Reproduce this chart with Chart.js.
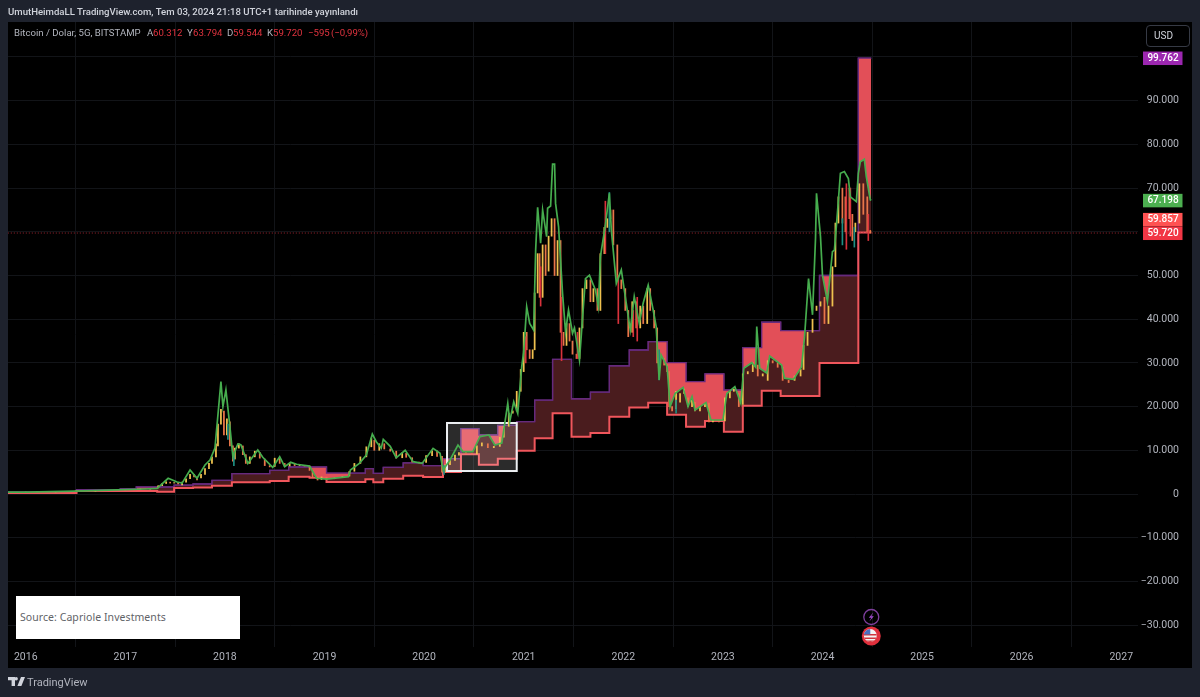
<!DOCTYPE html>
<html>
<head>
<meta charset="utf-8">
<title>Bitcoin / Dolar</title>
<script src="https://cdn.jsdelivr.net/npm/chart.js@4/dist/chart.umd.min.js"></script>
<style>
  html, body { margin: 0; padding: 0; background: #1e222d; }
  body { width: 1200px; height: 697px; position: relative; overflow: hidden; font-family: Roboto, sans-serif; }
  canvas { display: block; position: absolute; left: 0; top: 0; }
  .txt { position: absolute; white-space: pre; }
  #head { left: 8px; top: 4px; font-size: 9.6px; line-height: 16px; color: #d1d4dc; font-weight: 500; }
  #status { left: 14px; top: 25px; font-size: 9.6px; line-height: 16px; color: #b2b5be; }
  #status span { position: absolute; top: 0; }
  #status .v { color: #e0333f; }
  #usd { left: 1146px; top: 25px; width: 42px; height: 20px; border: 1px solid #363a45; border-radius: 4px; color: #d1d4dc; font-size: 10px; line-height: 20px; text-indent: 7px; }
  #source { left: 16px; top: 596px; width: 224px; height: 43px; background: #fff; color: #5f6368; font-family: "Noto Sans", sans-serif; font-size: 10.5px; line-height: 42px; text-indent: 4px; letter-spacing: .06px; }
  #logo { left: 8px; top: 677px; }
  #brand { left: 27px; top: 674px; font-size: 11px; line-height: 17px; color: #b2b5be; }
</style>
</head>
<body>
<canvas id="chart" width="1200" height="697"></canvas>
<div class="txt" id="head">UmutHeimdaLL TradingView.com, Tem 03, 2024 21:18 UTC+1 tarihinde yayınlandı</div>
<div class="txt" id="status"><span style="left:0">Bitcoin / Dolar, 5G, BITSTAMP</span><span style="left:133px">A</span><span class="v" style="left:139px">60.312</span><span style="left:173px">Y</span><span class="v" style="left:179px">63.794</span><span style="left:213px">D</span><span class="v" style="left:219px">59.544</span><span style="left:253px">K</span><span class="v" style="left:259px">59.720</span><span class="v" style="left:294px">−595</span><span class="v" style="left:317px">(−0,99%)</span></div>
<div class="txt" id="usd">USD</div>
<div class="txt" id="source">Source: Capriole Investments</div>
<svg class="txt" id="logo" width="17" height="10" viewBox="0 0 17 10"><path fill="#d1d4dc" d="M0 0h7v9H3.6V3.2H0zM8.2 0a1.7 1.7 0 1 1 0 3.4 1.7 1.7 0 0 1 0-3.4zM13 0h4l-3.6 9H9.4z"/></svg>
<div class="txt" id="brand">TradingView</div>
<script>
// --- data ---
const xTickYears = [2016, 2017, 2018, 2019, 2020, 2021, 2022, 2023, 2024, 2025, 2026, 2027];
const yTickValues = [-30000, -20000, -10000, 0, 10000, 20000, 30000, 40000, 50000, 60000, 70000, 80000, 90000, 100000];
const yTicksHidden = [100000, 60000];

const stepYears = [2015.82, 2016.51, 2016.95, 2017.11, 2017.32, 2017.49, 2017.68, 2017.87, 2018.07, 2018.45,
  2018.64, 2018.85, 2019.02, 2019.41, 2019.49, 2019.59, 2019.79, 2019.99, 2020.19, 2020.37,
  2020.55, 2020.74, 2020.93, 2021.11, 2021.29, 2021.48, 2021.67, 2021.86, 2022.06, 2022.25,
  2022.44, 2022.63, 2022.82, 2023.01, 2023.2, 2023.39, 2023.58, 2023.97, 2024.36, 2024.49];
const upperValues = [400, 1000, 1200, 1600, 1600, 2050, 2290, 3100, 4650, 5400,
  6180, 6180, 4800, 5800, 4700, 6100, 7100, 6480, 8080, 14950,
  13500, 15700, 16550, 21500, 30800, 21800, 23300, 29350, 32950, 34850,
  30050, 25700, 27500, 23800, 33500, 39300, 37400, 50000, 99762, 99762];
const lowerValues = [250, 680, 680, 700, 520, 1400, 1500, 1900, 2700, 3000,
  3950, 3700, 2750, 3400, 2700, 3500, 4200, 3900, 5030, 9080,
  6700, 8080, 9900, 12750, 18450, 13100, 13950, 17700, 19800, 20900,
  18150, 15400, 16700, 14250, 20200, 23600, 22450, 30000, 59857, 59857];

const fairYears = [2015.82, 2016, 2016.5, 2017, 2017.2, 2017.32, 2017.43, 2017.52, 2017.57, 2017.65, 2017.72, 2017.8,
  2017.85, 2017.9, 2017.96, 2017.98, 2018.01, 2018.05, 2018.08, 2018.13, 2018.16, 2018.23, 2018.33, 2018.38,
  2018.48, 2018.55, 2018.6, 2018.66, 2018.72, 2018.85, 2018.92, 2019.02, 2019.24, 2019.26, 2019.35, 2019.42,
  2019.48, 2019.52, 2019.57, 2019.59, 2019.66, 2019.72, 2019.81, 2019.89, 2019.98, 2020.09, 2020.16, 2020.19,
  2020.26, 2020.34, 2020.39, 2020.49, 2020.56, 2020.65, 2020.71, 2020.78, 2020.84, 2020.86, 2020.9, 2020.94,
  2020.98, 2021.0, 2021.03, 2021.06, 2021.1, 2021.12, 2021.14, 2021.17, 2021.19, 2021.23, 2021.24, 2021.27,
  2021.29, 2021.31, 2021.32, 2021.35, 2021.39, 2021.42, 2021.45, 2021.49, 2021.51, 2021.56, 2021.62, 2021.66,
  2021.72, 2021.75, 2021.77, 2021.82, 2021.86, 2021.88, 2021.93, 2021.98, 2022.07, 2022.11, 2022.16, 2022.2,
  2022.25, 2022.3, 2022.33, 2022.36, 2022.38, 2022.44, 2022.47, 2022.52, 2022.6, 2022.65, 2022.69, 2022.72,
  2022.83, 2022.88, 2023.0, 2023.04, 2023.12, 2023.18, 2023.21, 2023.29, 2023.33, 2023.34, 2023.37, 2023.44,
  2023.47, 2023.59, 2023.62, 2023.71, 2023.79, 2023.82, 2023.86, 2023.9, 2023.93, 2023.94, 2023.98, 2024.0,
  2024.05, 2024.1, 2024.12, 2024.15, 2024.18, 2024.22, 2024.26, 2024.28, 2024.34, 2024.36, 2024.38, 2024.42,
  2024.44, 2024.48, 2024.49];
const fairValues = [420, 430, 650, 1000, 1150, 1300, 3600, 2750, 2500, 5500, 3600, 6640,
  7780, 10500, 25700, 20000, 23800, 15400, 8540, 11440, 11300, 7000, 10070, 8400,
  6100, 8540, 6250, 7250, 6800, 6400, 3600, 3400, 3960, 5500, 7000, 8925,
  13730, 11970, 10500, 12500, 10900, 8300, 10000, 7400, 7000, 10450, 9300, 5500,
  7780, 11200, 9700, 9700, 13100, 13500, 11200, 11640, 20750, 16550, 21100, 18450,
  29100, 32560, 42860, 39050, 37500, 55800, 65600, 57400, 65000, 58900, 65400, 65900,
  75500, 75500, 66500, 61200, 45900, 37100, 42100, 36800, 38000, 30660, 49300, 50100,
  46700, 42900, 54300, 61500, 68800, 60400, 48200, 51260, 37500, 45150, 39100, 43700,
  47800, 42100, 38300, 26100, 31800, 29100, 20000, 23000, 24400, 20000, 22300, 19200,
  20900, 16930, 16930, 23000, 24550, 20750, 28760, 30050, 29000, 38300, 28760, 27700,
  31580, 29500, 26500, 26250, 29100, 36000, 49300, 41000, 58500, 68800, 58900, 50100,
  44000, 55450, 55800, 64300, 73400, 73800, 72200, 68000, 66900, 73400, 76000, 76600,
  72600, 67300, 67198];

const candleYears = [2016, 2016.3, 2016.5, 2016.7, 2017, 2017.15, 2017.25, 2017.33, 2017.37, 2017.41, 2017.45, 2017.49,
  2017.53, 2017.57, 2017.61, 2017.65, 2017.69, 2017.72, 2017.76, 2017.8, 2017.84, 2017.87, 2017.91, 2017.93,
  2017.96, 2017.99, 2018.02, 2018.05, 2018.08, 2018.1, 2018.14, 2018.18, 2018.21, 2018.25, 2018.3, 2018.35,
  2018.4, 2018.45, 2018.5, 2018.55, 2018.6, 2018.65, 2018.7, 2018.75, 2018.8, 2018.85, 2018.88, 2018.93,
  2018.97, 2019.02, 2019.1, 2019.18, 2019.25, 2019.3, 2019.36, 2019.42, 2019.47, 2019.5, 2019.55, 2019.6,
  2019.66, 2019.72, 2019.78, 2019.82, 2019.88, 2019.95, 2020.02, 2020.08, 2020.13, 2020.18, 2020.21, 2020.26,
  2020.31, 2020.35, 2020.42, 2020.48, 2020.53, 2020.58, 2020.64, 2020.7, 2020.76, 2020.8, 2020.85, 2020.89,
  2020.93, 2020.97, 2021.0, 2021.03, 2021.06, 2021.09, 2021.11, 2021.14, 2021.16, 2021.19, 2021.22, 2021.25,
  2021.28, 2021.31, 2021.34, 2021.37, 2021.4, 2021.43, 2021.46, 2021.49, 2021.53, 2021.56, 2021.59, 2021.63,
  2021.67, 2021.7, 2021.74, 2021.77, 2021.81, 2021.84, 2021.87, 2021.9, 2021.94, 2021.98, 2022.02, 2022.05,
  2022.09, 2022.13, 2022.17, 2022.2, 2022.24, 2022.27, 2022.31, 2022.34, 2022.37, 2022.41, 2022.44, 2022.46,
  2022.49, 2022.53, 2022.57, 2022.61, 2022.65, 2022.69, 2022.72, 2022.77, 2022.82, 2022.86, 2022.9, 2022.96,
  2023.02, 2023.07, 2023.11, 2023.16, 2023.2, 2023.25, 2023.3, 2023.35, 2023.4, 2023.45, 2023.5, 2023.55,
  2023.6, 2023.66, 2023.72, 2023.78, 2023.81, 2023.85, 2023.9, 2023.94, 2023.98, 2024.02, 2024.06, 2024.1,
  2024.13, 2024.16, 2024.2, 2024.23, 2024.27, 2024.3, 2024.33, 2024.37, 2024.41, 2024.45, 2024.48];
const candleOpen = [430, 450, 620, 600, 950, 1050, 1100, 1400, 1900, 2400, 2700, 2500,
  2600, 2100, 2700, 3500, 4500, 3900, 3700, 4500, 5800, 7000, 8500, 11000,
  16000, 19000, 13500, 16500, 11000, 8000, 10500, 11000, 9000, 7000, 8500, 9500,
  8000, 6500, 6300, 8200, 7000, 6400, 6900, 6500, 6500, 6400, 5400, 3900,
  3300, 3800, 3500, 3800, 4100, 5200, 7000, 8500, 10800, 12300, 10000, 11500,
  10300, 9800, 8300, 9300, 8300, 7300, 7200, 8800, 9900, 8600, 5000, 6700,
  7700, 8900, 9500, 9300, 9200, 11000, 11500, 10600, 10900, 13000, 15500, 18500,
  19000, 23500, 28000, 37000, 33000, 31000, 33000, 46000, 55000, 45000, 57000, 51000,
  59000, 63000, 50000, 58000, 37000, 34000, 39000, 35000, 32000, 31000, 38000, 47000,
  49000, 44000, 47000, 42000, 55000, 61000, 63000, 65000, 57000, 49000, 47000, 42000,
  37000, 44000, 38000, 43000, 39000, 47000, 42000, 38000, 30000, 31000, 29500, 28000,
  20000, 19500, 21000, 23000, 22000, 20000, 21000, 19000, 20000, 20800, 16500, 16800,
  16700, 22000, 23500, 23000, 20500, 27500, 28000, 29500, 27000, 26000, 30500, 30000,
  29000, 26000, 26000, 27000, 28500, 34000, 37000, 42000, 43000, 45000, 39000, 43000,
  52000, 62000, 70000, 68000, 70000, 64000, 60000, 62000, 71000, 68000, 60312];
const candleClose = [440, 460, 680, 610, 1000, 1150, 1250, 1900, 2400, 2800, 2500, 2600,
  2300, 2700, 3500, 4500, 3900, 3200, 4500, 5800, 7000, 8500, 11500, 16000,
  19400, 13500, 17200, 11000, 7500, 10500, 11500, 9000, 7000, 8500, 9800, 8200,
  6500, 6200, 8200, 7000, 6300, 7000, 6500, 6600, 6400, 5400, 3800, 3200,
  3900, 3600, 3700, 4000, 5200, 7000, 8500, 10800, 12800, 10000, 11500, 10300,
  9800, 8200, 9400, 8400, 7300, 7100, 8800, 9900, 8600, 5000, 6700, 7700,
  8900, 9500, 9300, 9200, 11000, 11700, 10600, 10900, 13000, 15500, 18500, 19000,
  23500, 28500, 37000, 33000, 31000, 33000, 46000, 55000, 45000, 57000, 50000, 59000,
  63000, 50000, 58000, 37000, 34000, 39000, 35000, 32000, 31000, 38000, 47000, 49000,
  44000, 47000, 42000, 55000, 61000, 63000, 65000, 57000, 49000, 47000, 42000, 36000,
  44000, 38000, 43000, 39000, 47000, 42000, 38000, 30000, 31000, 29500, 28000, 20000,
  19000, 23500, 23000, 24000, 20000, 21500, 19000, 20000, 20500, 16500, 16800, 16500,
  22000, 23500, 24000, 20000, 27500, 28000, 30000, 27000, 27500, 30500, 30000, 29000,
  26000, 25500, 27000, 28500, 34000, 37000, 40000, 43000, 44000, 39000, 43000, 52000,
  62000, 68000, 62000, 60000, 63000, 58000, 62000, 71000, 64000, 60000, 59720];

const tealYears = [2018.03, 2018.09, 2021.86, 2022.36, 2022.53, 2024.2, 2024.32, 2020.2];
const tealLow = [12500, 6500, 60000, 26100, 18500, 57000, 56500, 4500];
const tealHigh = [16000, 9500, 69000, 33000, 21500, 63000, 61000, 6500];
const redWickYears = [2021.17, 2021.38, 2021.82, 2021.95, 2022.1, 2022.14, 2024.24, 2024.46, 2024.28, 2021.02, 2021.54];
const redWickLow = [43000, 30500, 55000, 39000, 36000, 35000, 56000, 58000, 59000, 30000, 31000];
const redWickHigh = [52000, 45000, 67000, 50000, 42000, 45000, 71000, 64000, 70000, 36000, 37000];

const lastClose = 59720;
const lastUpper = 99762;
const lastFair = 67198;
const lastLower = 59857;
const boxYears = [2020.23, 2020.93];
const boxValues = [5260, 16250];
const eventYear = 2024.49;

const toPoints = (xs, ys) => xs.map((x, i) => ({ x: x, y: ys[i] }));
const toRanges = (xs, a, b) => xs.map((x, i) => ({ x: x, y: [a[i], b[i]] }));

const MAROON = '#4a1c1e';
const BRIGHT = '#e24f58';
const PURPLE = '#662a7c';
const AXIS_FONT = { family: 'Roboto', size: 10.5 };

// price tags, marked box and the two event bubbles
const overlay = {
  id: 'overlay',
  beforeDraw(chart) {
    const c = chart.ctx;
    c.save();
    c.fillStyle = '#000';
    c.fillRect(8, 22, 1184, 646);
    c.restore();
  },
  afterDatasetDraw(chart, args) {
    if (args.index !== 2) return;
    const c = chart.ctx, sx = chart.scales.x, sy = chart.scales.y;
    const x0 = sx.getPixelForValue(boxYears[0]), x1 = sx.getPixelForValue(boxYears[1]);
    const y0 = sy.getPixelForValue(boxValues[1]), y1 = sy.getPixelForValue(boxValues[0]);
    c.save();
    c.fillStyle = 'rgba(255,255,255,0.17)';
    c.fillRect(x0, y0, x1 - x0, y1 - y0);
    c.strokeStyle = '#eceff2';
    c.lineWidth = 2;
    c.strokeRect(x0, y0, x1 - x0, y1 - y0);
    c.restore();
  },
  afterDraw(chart) {
    const c = chart.ctx, sx = chart.scales.x, sy = chart.scales.y;
    const tag = (v, txt, bg, shift) => {
      const y = sy.getPixelForValue(v) + shift;
      c.fillStyle = bg;
      c.fillRect(1143, y - 6.5, 39.5, 13.5);
      c.fillStyle = '#fff';
      c.font = '500 10px Roboto';
      c.textAlign = 'center';
      c.textBaseline = 'middle';
      c.fillText(txt, 1163, y + 0.5);
    };
    c.save();
    tag(lastUpper, '99.762', '#9c27b0', 0);
    tag(lastFair, '67.198', '#4caf50', 0);
    tag(lastLower, '59.857', '#ff5252', -13);
    tag(lastClose, '59.720', '#f23645', 0);

    const ex = sx.getPixelForValue(eventYear);
    // lightning bubble
    c.beginPath();
    c.arc(ex, 617, 7.5, 0, Math.PI * 2);
    c.strokeStyle = '#7e3f9d';
    c.lineWidth = 1.3;
    c.stroke();
    c.beginPath();
    c.moveTo(ex + 2, 612.5); c.lineTo(ex - 2.5, 617.8); c.lineTo(ex, 617.8);
    c.lineTo(ex - 2, 621.5); c.lineTo(ex + 2.5, 616.2); c.lineTo(ex, 616.2);
    c.closePath();
    c.fillStyle = '#a24bd0';
    c.fill();
    // flag bubble
    c.beginPath();
    c.arc(ex, 636, 9.5, 0, Math.PI * 2);
    c.fillStyle = '#e0303c';
    c.fill();
    c.save();
    c.beginPath();
    c.arc(ex - 1, 635.5, 6.5, 0, Math.PI * 2);
    c.clip();
    c.fillStyle = '#f4f4f4';
    c.fillRect(ex - 8, 628, 15, 15);
    c.fillStyle = '#d0343c';
    c.fillRect(ex - 8, 634, 15, 1.5);
    c.fillRect(ex - 8, 637.5, 15, 1.5);
    c.fillRect(ex - 8, 640.5, 15, 1.5);
    c.fillStyle = '#4a6fc0';
    c.fillRect(ex - 8, 628, 7, 6.5);
    c.restore();
    c.restore();
  }
};

new Chart(document.getElementById('chart'), {
  data: {
    datasets: [
      { type: 'line', data: toPoints(stepYears, upperValues), stepped: 'before', order: 7, borderColor: PURPLE, borderWidth: 1.3,
        pointRadius: 0, fill: { target: 2, above: MAROON, below: MAROON } },
      { type: 'line', data: toPoints(stepYears, upperValues), stepped: 'before', order: 6, borderColor: PURPLE, borderWidth: 1.3,
        pointRadius: 0, fill: { target: 6, above: BRIGHT, below: 'rgba(0,0,0,0)' } },
      { type: 'line', data: toPoints(stepYears, lowerValues), stepped: 'before', order: 5, borderColor: '#f0565c', borderWidth: 2,
        pointRadius: 0, fill: false },
      { type: 'line', data: toPoints([2015.82, 2027.17], [lastClose, lastClose]), order: 4, borderColor: '#a02530', borderWidth: 1,
        borderDash: [1, 2], pointRadius: 0, fill: false },
      { type: 'bar', data: toRanges(candleYears, candleOpen, candleClose), order: 3, barThickness: 1.1, grouped: false,
        backgroundColor: candleYears.map((_, i) => candleClose[i] >= candleOpen[i] ? '#efc14f' : '#e9764a') },
      { type: 'bar', data: toRanges(tealYears.concat(redWickYears), tealLow.concat(redWickLow), tealHigh.concat(redWickHigh)), order: 2,
        barThickness: 1, grouped: false,
        backgroundColor: tealYears.map(() => '#1f8f84').concat(redWickYears.map(() => '#d8323c')) },
      { type: 'line', data: toPoints(fairYears, fairValues), order: 1, borderColor: '#46ad4e', borderWidth: 1.7, pointRadius: 0,
        tension: 0, fill: false }
    ]
  },
  options: {
    responsive: false,
    animation: false,
    devicePixelRatio: 1,
    layout: { padding: { left: 8, right: 21, top: 22, bottom: 29 } },
    plugins: { legend: { display: false }, tooltip: { enabled: false } },
    scales: {
      x: {
        type: 'linear', min: 2015.822, max: 2027.168, offset: false,
        afterBuildTicks: s => { s.ticks = xTickYears.map(v => ({ value: v })); },
        afterFit: s => { s.height = 21; },
        grid: { color: '#121418', drawTicks: false },
        border: { display: false },
        ticks: {
          autoSkip: false, maxRotation: 0, padding: 4,
          color: '#b2b5be', font: AXIS_FONT,
          callback: v => String(v)
        }
      },
      y: {
        type: 'linear', position: 'right', min: -35011, max: 108009,
        afterBuildTicks: s => { s.ticks = yTickValues.map(v => ({ value: v })); },
        afterFit: s => { s.width = 41; },
        grid: { color: '#121418', drawTicks: false },
        border: { display: false },
        ticks: {
          autoSkip: false, padding: 2, crossAlign: 'far',
          color: '#b2b5be', font: AXIS_FONT,
          callback: v => {
            if (yTicksHidden.includes(v)) return '';
            if (v === 0) return '0';
            return (v < 0 ? '−' : '') + (Math.abs(v) / 1000) + '.000';
          }
        }
      }
    }
  },
  plugins: [overlay]
});
</script>
</body>
</html>
